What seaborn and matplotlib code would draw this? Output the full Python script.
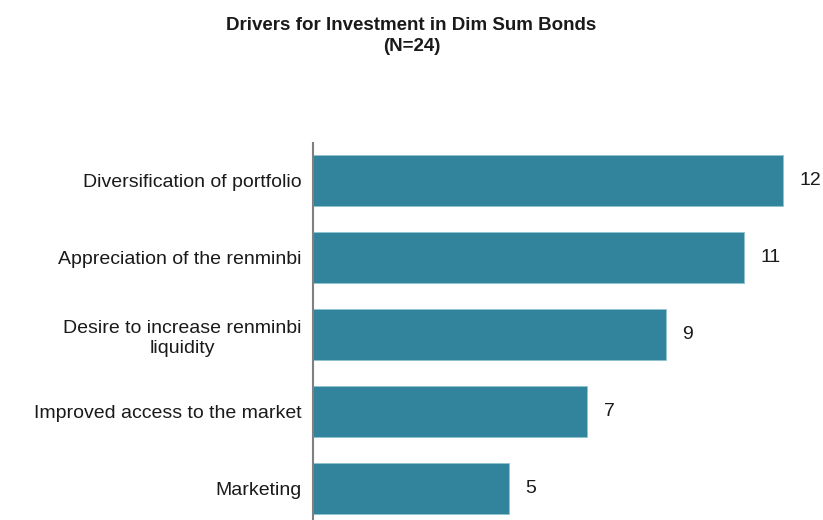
import matplotlib
matplotlib.use("Agg")
import matplotlib.pyplot as plt
import seaborn as sns
import pandas as pd

# Chart data
drivers = [
    "Diversification of portfolio",
    "Appreciation of the renminbi",
    "Desire to increase renminbi\nliquidity",
    "Improved access to the market",
    "Marketing",
]
counts = [12, 11, 9, 7, 5]
title = "Drivers for Investment in Dim Sum Bonds\n(N=24)"

df = pd.DataFrame({"driver": drivers, "count": counts})

sns.set_style("white")
plt.rcParams["font.family"] = ["Liberation Sans", "DejaVu Sans"]

fig = plt.figure(figsize=(8.23, 5.2), dpi=100)
ax = fig.add_axes([313 / 823, 0.0, 510 / 823, (520 - 143) / 520])

sns.barplot(data=df, x="count", y="driver", color="#31849B", saturation=1,
            width=0.66, edgecolor="#8fc3d0", linewidth=0.6, ax=ax)

ax.set_xlim(0, 510 / 39.17)
ax.set_ylim(4.41, -0.49)

for i, v in enumerate(counts):
    ax.text(v + 0.42, i, str(v), va="center", ha="left", fontsize=14, color="#1a1a1a")

ax.set_xlabel("")
ax.set_ylabel("")
ax.set_xticks([])
ax.tick_params(axis="y", length=0, pad=8, labelsize=14, labelcolor="#1a1a1a")
for lbl in ax.get_yticklabels():
    lbl.set_horizontalalignment("right")
    lbl.set_multialignment("center")
    lbl.set_linespacing(1.3)
for s in ["top", "right", "bottom"]:
    ax.spines[s].set_visible(False)
ax.spines["left"].set_color("#808080")
ax.spines["left"].set_linewidth(1.5)

fig.text(0.5, 1 - 36 / 520, title, ha="center", va="center", fontsize=13.5,
         fontweight="bold", color="#1a1a1a", linespacing=1.3)

fig.savefig("out.png", dpi=100)
